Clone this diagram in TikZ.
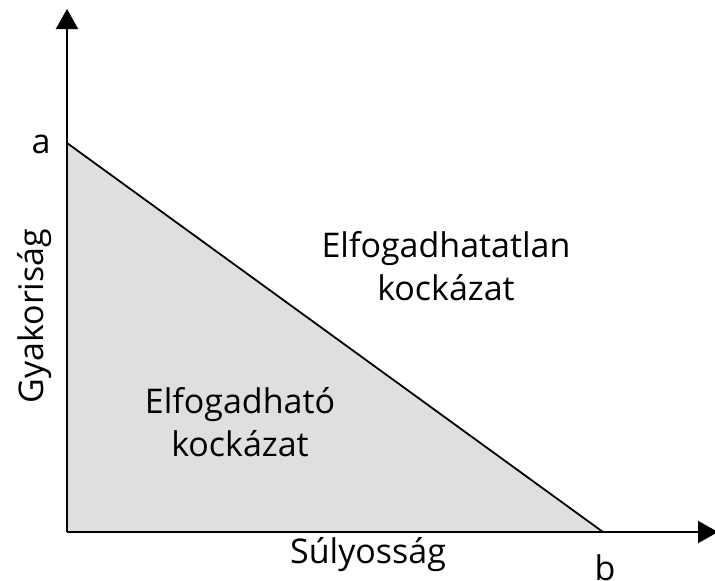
\documentclass[tikz,border=0pt]{standalone}
\usepackage{fontspec}
\setmainfont{Open Sans}
\usetikzlibrary{arrows.meta}
\begin{document}
\begin{tikzpicture}[x=1pt,y=-1pt,
  axis/.style={line width=2.2pt,-{Triangle[width=22pt,length=20pt]}},
  lbl/.style={font=\fontsize{34}{44}\selectfont, inner sep=0pt, anchor=base}]
\useasboundingbox (0,0) rectangle (715,581);
% corner points of the acceptable region
\coordinate (O) at (67,532);
\coordinate (A) at (67,143);
\coordinate (B) at (603,532);
\fill[gray!25] (O) -- (A) -- (B) -- cycle;
\draw[line width=1.8pt] (A) -- (B);
% axes
\coordinate (ytop) at (67,9);
\coordinate (xend) at (718,532);
\draw[axis] (O) -- (ytop);
\draw[axis] (O) -- (xend);
% axis labels
\node[lbl] (a) at (41,153) {a};
\node[lbl] (b) at (605,580) {b};
\node[lbl, rotate=90] (gy) at (43,316) {Gyakoriság};
\node[lbl] (su) at (368,563) {Súlyosság};
% region labels
\node[lbl] (un1) at (446,257) {Elfogadhatatlan};
\node[lbl] (un2) at (446,300) {kockázat};
\node[lbl] (ac1) at (240,413) {Elfogadható};
\node[lbl] (ac2) at (240,456) {kockázat};
\end{tikzpicture}
\end{document}
